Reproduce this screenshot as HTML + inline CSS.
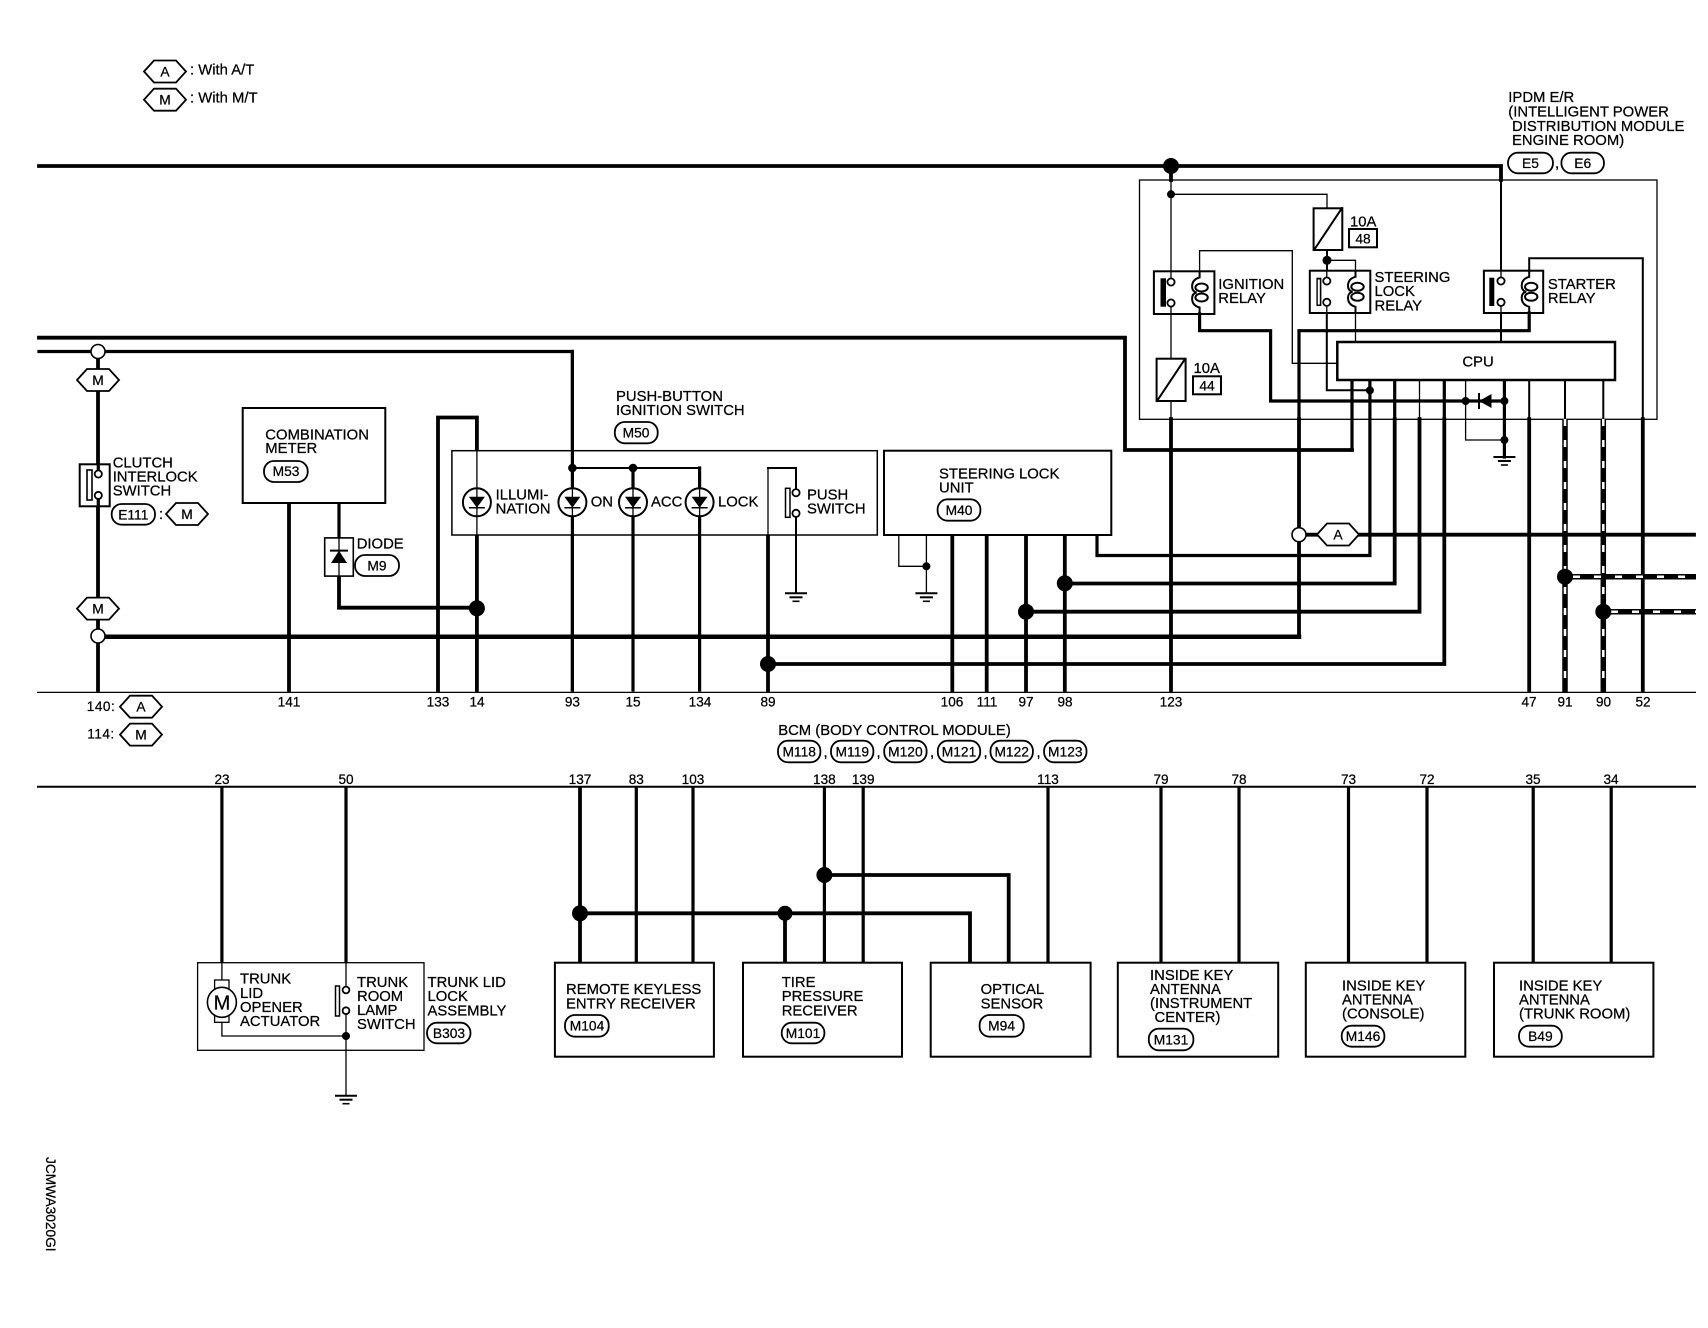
<!DOCTYPE html>
<html><head><meta charset="utf-8"><style>
html,body{margin:0;padding:0;background:#fff}
svg{display:block}
text{font-family:"Liberation Sans",sans-serif;font-size:14.85px;fill:#000;stroke:#000;stroke-width:.25}
.n{font-size:13.6px;text-anchor:middle}
.c{text-anchor:middle;font-size:13.8px}
.w4,.w3,.w2,.w1,.m{fill:none;stroke:#000;stroke-linecap:square;stroke-linejoin:miter}
.w1{stroke-linecap:butt}
.m{stroke-width:4.5}.w4{stroke-width:3.8}.w3{stroke-width:3.2}.w2{stroke-width:2}.w1{stroke-width:1.3}
.b{fill:#fff;stroke:#000;stroke-width:2}
.t{fill:#fff;stroke:#000;stroke-width:1.3}
.o{fill:#fff;stroke:#000;stroke-width:1.8}
.d{fill:#000;stroke:none}
.dw{fill:none;stroke:#fff;stroke-width:2.5;stroke-dasharray:7 14}
</style></head><body>
<svg width="1708" height="1328" viewBox="0 0 1708 1328" xmlns="http://www.w3.org/2000/svg">
<defs>
<polygon id="hx" points="-21,0 -11,-11 11,-11 21,0 11,11 -11,11" fill="#fff" stroke="#000" stroke-width="1.8"/>
<g id="gnd"><path d="M-11,0H11" stroke="#000" stroke-width="2" fill="none"/><path d="M-6.5,4H6.5" stroke="#000" stroke-width="2" fill="none"/><path d="M-3.5,8H3.5" stroke="#000" stroke-width="1.6" fill="none"/></g>
<g id="led"><ellipse cx="0" cy="0" rx="14" ry="14" fill="#fff" stroke="#000" stroke-width="2"/><polygon points="-8,-5.5 8,-5.5 0,5.5" fill="#000"/><path d="M-8,5.5H8" stroke="#000" stroke-width="1.5"/></g>
<g id="coil" fill="none" stroke="#000" stroke-width="2"><ellipse cx="2" cy="-5" rx="6.2" ry="4"/><ellipse cx="2" cy="5" rx="6.2" ry="4"/><path d="M0,-21V-15Q-7.5,-13 -7.5,-6Q-7.5,-1 -3,0Q-7.5,1 -7.5,6Q-7.5,13 0,15V21"/></g>
</defs>

<!-- legend -->
<use href="#hx" x="165" y="71.5"/><text class="c" x="165" y="76.5">A</text>
<use href="#hx" x="165" y="99.7"/><text class="c" x="165" y="104.7">M</text>
<text x="190" y="74.5">: With A/T</text>
<text x="190" y="102.5">: With M/T</text>

<!-- IPDM box -->
<rect x="1139.5" y="180" width="517.5" height="239.3" class="t"/>

<!-- top wires -->
<path class="w4" d="M39,166H1501V180"/>
<path class="w4" d="M1171,166V180"/>
<path class="w1" d="M1171,180V272M1171,314V359M1171,401V419"/>
<path class="w1" d="M1171,194.3H1327V208"/>
<path class="w2" d="M1501,180V271M1501,313V342"/>

<path class="w4" d="M39,337.7H1125V450H1352"/>
<path class="w3" d="M1352,380V450"/>
<path class="w3" d="M39,351.5H572.4V690"/>

<!-- fuse 48 -->
<rect x="1313.6" y="208.3" width="28.7" height="41.7" class="b"/><path class="w2" d="M1314,250L1342,208"/>
<text x="1350" y="226.5">10A</text>
<rect x="1349" y="229" width="28" height="18.3" class="b"/><text class="c" x="1363" y="243.5">48</text>
<path class="w2" d="M1327,250V271"/>
<path class="w1" d="M1327,260.3H1355.5V271M1355.5,313V342"/>
<path class="w2" d="M1326.8,313V390.3H1370"/>

<!-- ignition relay -->
<rect x="1153.9" y="271.3" width="60.5" height="42.7" class="b"/>
<path class="w1" d="M1199.6,271V250.7H1292.3V363.3H1337.3"/>
<path class="w3" d="M1199.6,314V330.7H1270.6V401H1465.6"/>
<rect x="1160.5" y="278.3" width="5.5" height="28.4" fill="#000"/>
<path class="w1" d="M1171,272V278M1171,307V314"/>
<circle cx="1171" cy="282" r="3.6" class="o"/><circle cx="1171" cy="303" r="3.6" class="o"/>
<use href="#coil" x="1199.6" y="292.5"/>
<text x="1218.3" y="289.2">IGNITION</text><text x="1218.3" y="303.2">RELAY</text>

<!-- steering lock relay -->
<rect x="1309.8" y="270.7" width="60.5" height="42.3" class="b"/>
<rect x="1316.4" y="277.7" width="5" height="28.3" fill="#000" /><rect x="1317.8" y="279.5" width="2" height="25" fill="#fff"/>
<path class="w1" d="M1326.8,271V277M1326.8,306V313"/>
<circle cx="1326.8" cy="281" r="3.6" class="o"/><circle cx="1326.8" cy="302.3" r="3.6" class="o"/>
<use href="#coil" x="1355.5" y="291.8"/>
<text x="1374.5" y="282.2">STEERING</text><text x="1374.5" y="296.2">LOCK</text><text x="1374.5" y="310.7">RELAY</text>

<!-- starter relay -->
<rect x="1483.9" y="270.7" width="59.3" height="42.3" class="b"/>
<path class="w2" d="M1529.2,271V258.3H1642.8V419"/>
<path class="w3" d="M1529.2,313V330.7H1299V419"/>
<rect x="1489.3" y="277.7" width="5" height="28.3" fill="#000"/>
<path class="w1" d="M1501,271V277M1501,306V313"/>
<circle cx="1501" cy="281" r="3.6" class="o"/><circle cx="1501" cy="302.3" r="3.6" class="o"/>
<use href="#coil" x="1529.2" y="291.8"/>
<text x="1547.9" y="289.2">STARTER</text><text x="1547.9" y="303.2">RELAY</text>

<!-- fuse 44 -->
<rect x="1156.6" y="358.7" width="29" height="42.3" class="b"/><path class="w2" d="M1157,401L1185,359"/>
<text x="1193.5" y="373">10A</text>
<rect x="1193" y="376.3" width="28" height="18" class="b"/><text class="c" x="1207" y="390.5">44</text>

<!-- CPU -->
<rect x="1337.3" y="342" width="277.7" height="38" fill="#fff" stroke="#000" stroke-width="2.5"/>
<text class="c" x="1478" y="366.3" style="font-size:14.85px">CPU</text>

<!-- CPU lower pins -->
<path class="w3" d="M1369.9,382V555.5H1097V537"/>
<path class="w3" d="M1394.7,382V420"/><path class="w4" d="M1394.7,419V583.5H1064.8"/>
<path class="w1" d="M1419.5,380V420"/><path class="w4" d="M1419.5,419V611.7H1026"/>
<path class="w3" d="M1444.3,382V420"/><path class="w4" d="M1444.3,419V664H768"/>
<path class="w1" d="M1465.6,380V440H1504.4"/>
<path class="w3" d="M1504.4,382V457"/>
<path class="w3" d="M1470,401H1504"/>
<polygon points="1479,401 1491.5,394 1491.5,408" fill="#000"/><path class="w2" d="M1479,394V408"/>
<use href="#gnd" x="1504.4" y="457"/>
<path class="w2" d="M1529.2,381V420"/><path class="w4" d="M1529.2,419V690"/>
<path class="w2" d="M1565,381V420M1603.3,381V420"/>
<path class="w4" d="M1642.8,419V690"/>
<path class="w4" d="M1171,419V690"/>
<path class="w4" d="M1299,419V636.7"/>
<circle cx="1369.9" cy="390.3" r="4" class="d"/>
<circle cx="1465.6" cy="401" r="4" class="d"/>
<circle cx="1504.4" cy="401" r="4" class="d"/>
<circle cx="1504.4" cy="440" r="4" class="d"/>
<circle cx="1171" cy="194.3" r="4" class="d"/>
<circle cx="1327" cy="260.3" r="4.5" class="d"/>
<circle cx="1171" cy="166" r="8" class="d"/>

<!-- dashed wires -->
<path d="M1565,419V692M1603.3,419V692M1565,576.7H1696M1603.3,611.7H1696" fill="none" stroke="#000" stroke-width="5.5"/>
<path class="dw" d="M1565,419V692"/><path class="dw" d="M1603.3,419V692"/>
<path class="dw" d="M1573,576.7H1696"/><path class="dw" d="M1611,611.7H1696"/>
<circle cx="1565" cy="576.7" r="8" class="d"/><circle cx="1603.3" cy="611.7" r="8" class="d"/>

<!-- A line -->
<path class="w4" d="M1299,534.7H1694"/>
<circle cx="1299" cy="534.7" r="7" fill="#fff" stroke="#000" stroke-width="1.6"/>
<use href="#hx" x="1338" y="534.5"/><text class="c" x="1338" y="539.5">A</text>

<!-- IPDM label -->
<text x="1508.3" y="102.2">IPDM E/R</text>
<text x="1508.3" y="116.5">(INTELLIGENT POWER</text>
<text x="1512" y="131.2">DISTRIBUTION MODULE</text>
<text x="1512" y="145">ENGINE ROOM)</text>
<rect x="1508" y="152.7" width="45" height="20.6" rx="10" class="o"/><text class="c" x="1530.5" y="168">E5</text>
<text x="1555" y="168">,</text>
<rect x="1561.4" y="152.7" width="42.6" height="20.6" rx="10" class="o"/><text class="c" x="1582.7" y="168">E6</text>

<!-- left side: clutch -->
<path class="w4" d="M98,351.5V690"/>
<circle cx="98" cy="351.5" r="7" fill="#fff" stroke="#000" stroke-width="1.6"/>
<use href="#hx" x="98" y="380"/><text class="c" x="98" y="385">M</text>
<rect x="79.7" y="464.3" width="30" height="42" class="b"/>
<rect x="87" y="470" width="5" height="30" fill="#fff" stroke="#000" stroke-width="1.6"/>
<path class="w3" d="M98.3,466V470M98.3,500V504"/>
<circle cx="98.3" cy="474" r="3.6" class="o"/><circle cx="98.3" cy="495.4" r="3.6" class="o"/>
<text x="112.7" y="467.4">CLUTCH</text><text x="112.7" y="481.5">INTERLOCK</text><text x="112.7" y="495.7">SWITCH</text>
<rect x="111.7" y="504" width="43.3" height="20.7" rx="10" class="o"/><text class="c" x="133.3" y="519.3">E111</text>
<text x="159" y="519">:</text>
<use href="#hx" x="187" y="514"/><text class="c" x="187" y="519">M</text>
<use href="#hx" x="98" y="608.6"/><text class="c" x="98" y="613.6">M</text>

<!-- main M bus -->
<path class="m" d="M98,636.7H1299"/>
<circle cx="98" cy="636" r="7" fill="#fff" stroke="#000" stroke-width="1.6"/>

<!-- combination meter -->
<rect x="242.7" y="408" width="142.6" height="95" class="b"/>
<text x="265.3" y="439.5">COMBINATION</text><text x="265.3" y="453">METER</text>
<rect x="264" y="461" width="43.7" height="21" rx="10" class="o"/><text class="c" x="286" y="476">M53</text>
<path class="w4" d="M289,505V690"/>
<path class="w3" d="M339,505V536"/>
<path class="w4" d="M339,578V607.7H476.9"/>
<rect x="324.7" y="537.9" width="28.6" height="38.2" fill="#fff" stroke="#000" stroke-width="1.6"/>
<path class="w1" d="M339,538V576"/>
<polygon points="339,550.6 331,563 347,563" fill="#000"/><path class="w2" d="M331,550.6H347"/>
<text x="356.7" y="548.5">DIODE</text>
<rect x="355" y="555" width="44" height="21" rx="10" class="o"/><text class="c" x="377" y="570.7">M9</text>

<!-- push button switch -->
<path class="w4" d="M438,690V417.5H476.9V449"/>
<rect x="451.9" y="450.7" width="425.4" height="84.3" fill="#fff" stroke="#000" stroke-width="1.5"/>
<path class="w1" d="M476.9,451V535"/>
<path class="w4" d="M476.9,537V690"/>
<path class="w3" d="M572.4,351.5V690M633,468V690M699.6,468V690"/>
<path class="w4" d="M768,537V690"/>
<path class="w2" d="M572.4,468H699.6"/>
<use href="#led" x="476.9" y="502.3"/><use href="#led" x="572.4" y="502.3"/><use href="#led" x="633" y="502.3"/><use href="#led" x="699.6" y="502.3"/>
<path class="w1" d="M476.9,488V516M572.4,488V516M633,488V516M699.6,488V516"/>
<circle cx="572.4" cy="468" r="4.3" class="d"/><circle cx="633" cy="468" r="4.3" class="d"/>
<text x="495.6" y="499.3">ILLUMI-</text><text x="495.6" y="513.3">NATION</text>
<text x="590.7" y="506.7">ON</text><text x="651" y="506.7">ACC</text><text x="718" y="506.7">LOCK</text>
<path class="w1" d="M768,535V468"/><path class="w2" d="M768,468H796V489"/>
<path class="w2" d="M796,517V592"/>
<rect x="785.5" y="488.3" width="4.5" height="29" fill="#fff" stroke="#000" stroke-width="1.5"/>
<circle cx="796" cy="492.7" r="3.6" class="o"/><circle cx="796" cy="513.3" r="3.6" class="o"/>
<use href="#gnd" x="796" y="593.3"/>
<text x="807" y="499.3">PUSH</text><text x="807" y="513.3">SWITCH</text>
<text x="616" y="401">PUSH-BUTTON</text><text x="616" y="415">IGNITION SWITCH</text>
<rect x="614.8" y="422" width="42.9" height="21.3" rx="10" class="o"/><text class="c" x="636" y="437.5">M50</text>

<!-- steering lock unit -->
<rect x="884" y="450.7" width="227.3" height="84.3" class="b"/>
<text x="939" y="478.3">STEERING LOCK</text><text x="939" y="492.7">UNIT</text>
<rect x="937.6" y="499.3" width="42.8" height="21.4" rx="10" class="o"/><text class="c" x="959" y="515">M40</text>
<path class="w1" d="M898.8,535V566.3H926.4M926.4,535V593"/>
<circle cx="926.4" cy="566.3" r="4" class="d"/><use href="#gnd" x="926.4" y="593.3"/>
<path class="w4" d="M952.3,537V690M986.7,537V690M1026,537V690M1064.8,537V690"/>
<circle cx="476.9" cy="608.3" r="8" class="d"/><circle cx="768" cy="664" r="8" class="d"/><circle cx="1026" cy="611.7" r="8" class="d"/><circle cx="1064.8" cy="583.3" r="8" class="d"/>

<!-- BCM bus -->
<path class="w1" d="M37,692.4H1696"/>
<text class="n" x="289" y="706.7">141</text><text class="n" x="438" y="706.7">133</text><text class="n" x="477" y="706.7">14</text><text class="n" x="572.4" y="706.7">93</text><text class="n" x="633" y="706.7">15</text><text class="n" x="700" y="706.7">134</text><text class="n" x="768" y="706.7">89</text><text class="n" x="952" y="706.7">106</text><text class="n" x="987" y="706.7">111</text><text class="n" x="1026" y="706.7">97</text><text class="n" x="1065" y="706.7">98</text><text class="n" x="1171" y="706.7">123</text><text class="n" x="1529" y="706.7">47</text><text class="n" x="1565" y="706.7">91</text><text class="n" x="1603.5" y="706.7">90</text><text class="n" x="1643" y="706.7">52</text>
<text class="n" x="101" y="711" style="letter-spacing:.5px">140:</text><use href="#hx" x="141" y="706.7"/><text class="c" x="141" y="711.7">A</text>
<text class="n" x="101" y="738.7" style="letter-spacing:.5px">114:</text><use href="#hx" x="141" y="734.6"/><text class="c" x="141" y="739.6">M</text>
<text x="778.2" y="735">BCM (BODY CONTROL MODULE)</text>
<g>
<rect x="778" y="740.7" width="42.4" height="21.6" rx="10" class="o"/><text class="c" x="799.2" y="756.5">M118</text><text x="823.5" y="757">,</text>
<rect x="831" y="740.7" width="42.4" height="21.6" rx="10" class="o"/><text class="c" x="852.3" y="756.5">M119</text><text x="876.5" y="757">,</text>
<rect x="884.2" y="740.7" width="42.4" height="21.6" rx="10" class="o"/><text class="c" x="905.4" y="756.5">M120</text><text x="930" y="757">,</text>
<rect x="937.8" y="740.7" width="42.4" height="21.6" rx="10" class="o"/><text class="c" x="959" y="756.5">M121</text><text x="983.5" y="757">,</text>
<rect x="990.5" y="740.7" width="42.4" height="21.6" rx="10" class="o"/><text class="c" x="1011.7" y="756.5">M122</text><text x="1036.5" y="757">,</text>
<rect x="1044.1" y="740.7" width="42.4" height="21.6" rx="10" class="o"/><text class="c" x="1065.3" y="756.5">M123</text>
</g>

<!-- lower bus -->
<path class="w2" d="M38,786.7H1695"/>
<text class="n" x="222" y="784">23</text><text class="n" x="346" y="784">50</text><text class="n" x="580" y="784">137</text><text class="n" x="636.3" y="784">83</text><text class="n" x="693" y="784">103</text><text class="n" x="824.4" y="784">138</text><text class="n" x="863.2" y="784">139</text><text class="n" x="1048" y="784">113</text><text class="n" x="1161" y="784">79</text><text class="n" x="1239" y="784">78</text><text class="n" x="1348.5" y="784">73</text><text class="n" x="1427" y="784">72</text><text class="n" x="1533" y="784">35</text><text class="n" x="1611" y="784">34</text>

<path class="w3" d="M221.9,788V961M346,788V961M636.3,788V961M693,788V961M824.4,788V961M863.2,788V961M1048,788V961"/>
<path class="w3" d="M1161,788V961M1239,788V961M1348.5,788V961M1427,788V961M1533.2,788V961M1611.2,788V961"/>
<path class="w4" d="M580,788V961M580,913.3H970V961M785,913.3V961M824.4,875H1008.7V961"/>
<circle cx="580" cy="913.3" r="8" class="d"/><circle cx="785" cy="913.3" r="7.5" class="d"/><circle cx="824.4" cy="875" r="8" class="d"/>

<!-- trunk assembly -->
<rect x="197.6" y="962.7" width="226.4" height="87.6" class="t"/>
<path class="w1" d="M221.9,963V980M221.9,1022V1036H346M346,963V987M346,1014V1096"/>
<rect x="214.6" y="980" width="14.4" height="42.3" class="t"/>
<ellipse cx="221.9" cy="1002.3" rx="14.5" ry="15" fill="#fff" stroke="#000" stroke-width="1.6"/>
<text class="c" x="221.9" y="1009.5" style="font-size:20px">M</text>
<rect x="335.5" y="986" width="4" height="30" fill="#fff" stroke="#000" stroke-width="1.5"/>
<circle cx="346" cy="990" r="3.4" class="o"/><circle cx="346" cy="1010.7" r="3.4" class="o"/>
<circle cx="346" cy="1036" r="4" class="d"/><use href="#gnd" x="346" y="1095.7"/>
<text x="240" y="983.5">TRUNK</text><text x="240" y="998">LID</text><text x="240" y="1012">OPENER</text><text x="240" y="1026">ACTUATOR</text>
<text x="357" y="987">TRUNK</text><text x="357" y="1001">ROOM</text><text x="357" y="1015">LAMP</text><text x="357" y="1029">SWITCH</text>
<text x="427.5" y="987">TRUNK LID</text><text x="427.5" y="1001">LOCK</text><text x="427.5" y="1015.5">ASSEMBLY</text>
<rect x="427" y="1022.7" width="43.5" height="20.6" rx="10" class="o"/><text class="c" x="449" y="1038">B303</text>

<!-- receivers -->
<rect x="554.9" y="962.7" width="159" height="94" class="b"/>
<text x="566" y="994">REMOTE KEYLESS</text><text x="566" y="1008.5">ENTRY RECEIVER</text>
<rect x="565" y="1015" width="43.7" height="21.7" rx="10" class="o"/><text class="c" x="587" y="1030.7">M104</text>

<rect x="743" y="962.7" width="159" height="94" class="b"/>
<text x="781.7" y="987">TIRE</text><text x="781.7" y="1001">PRESSURE</text><text x="781.7" y="1015.5">RECEIVER</text>
<rect x="781.7" y="1022.7" width="42.7" height="20.6" rx="10" class="o"/><text class="c" x="803" y="1038">M101</text>

<rect x="930.7" y="962.7" width="159.9" height="94" class="b"/>
<text x="980.6" y="994">OPTICAL</text><text x="980.6" y="1008.5">SENSOR</text>
<rect x="979.6" y="1015" width="44.1" height="21.7" rx="10" class="o"/><text class="c" x="1001.6" y="1030.7">M94</text>

<rect x="1117.8" y="962.7" width="160.4" height="94" class="b"/>
<text x="1150" y="980.2">INSIDE KEY</text><text x="1150" y="994.2">ANTENNA</text><text x="1150" y="1008.2">(INSTRUMENT</text><text x="1154.5" y="1022.2">CENTER)</text>
<rect x="1148.8" y="1028.7" width="44.6" height="21.6" rx="10" class="o"/><text class="c" x="1171" y="1044.5">M131</text>

<rect x="1305.8" y="962.7" width="159.5" height="94" class="b"/>
<text x="1342" y="990.5">INSIDE KEY</text><text x="1342" y="1004.5">ANTENNA</text><text x="1342" y="1018.5">(CONSOLE)</text>
<rect x="1341.7" y="1025.7" width="42.7" height="21" rx="10" class="o"/><text class="c" x="1363" y="1041">M146</text>

<rect x="1494" y="962.7" width="159.4" height="94" class="b"/>
<text x="1519" y="990.5">INSIDE KEY</text><text x="1519" y="1004.5">ANTENNA</text><text x="1519" y="1018.5">(TRUNK ROOM)</text>
<rect x="1519" y="1025.7" width="42.8" height="21" rx="10" class="o"/><text class="c" x="1540.4" y="1041">B49</text>

<text transform="translate(46,1157) rotate(90)" style="font-size:13.7px">JCMWA3020GI</text>
</svg>
</body></html>
